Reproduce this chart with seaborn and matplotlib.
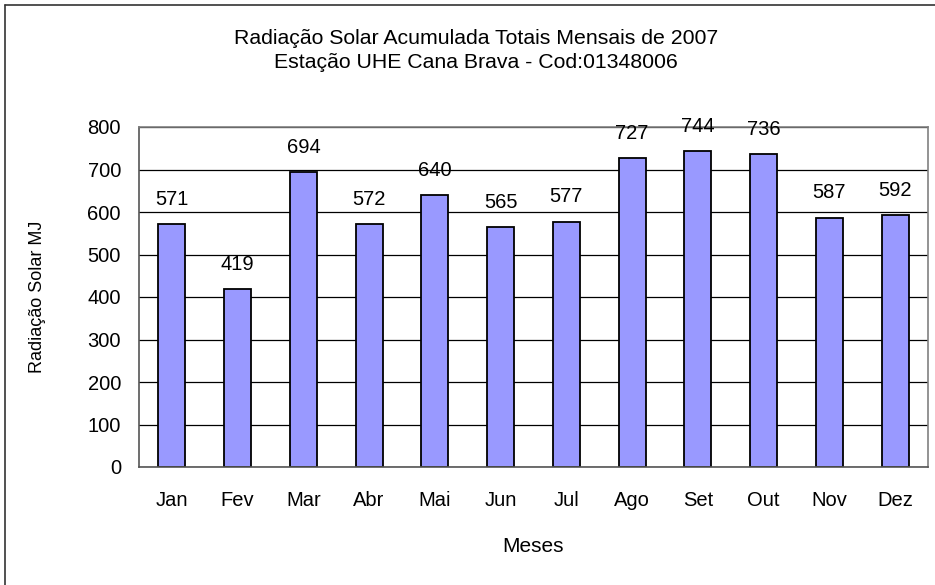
import pandas as pd
import matplotlib.pyplot as plt
import seaborn as sns
from matplotlib.lines import Line2D

meses = ["Jan", "Fev", "Mar", "Abr", "Mai", "Jun", "Jul", "Ago", "Set", "Out", "Nov", "Dez"]
radiacao = [571, 419, 694, 572, 640, 565, 577, 727, 744, 736, 587, 592]

df = pd.DataFrame({"Mes": meses, "Radiacao": radiacao})

sns.set_style("white")
plt.rcParams["font.family"] = ["Liberation Sans", "DejaVu Sans"]
plt.rcParams["text.color"] = "black"
plt.rcParams["axes.labelcolor"] = "black"
plt.rcParams["xtick.color"] = "black"
plt.rcParams["ytick.color"] = "black"

fig = plt.figure(figsize=(9.35, 5.85), dpi=100)
ax = fig.add_axes([139 / 935, 1 - 467 / 585, (928 - 139) / 935, (467 - 127) / 585])

sns.barplot(data=df, x="Mes", y="Radiacao", ax=ax, color="#9999FF",
            edgecolor="black", linewidth=1.3, width=0.41, saturation=1)

ax.set_ylim(0, 800)
ax.set_yticks(range(0, 801, 100))
ax.yaxis.grid(True, color="black", linewidth=0.9)
ax.set_axisbelow(True)
ax.tick_params(axis="both", length=0, labelsize=14.5)
ax.tick_params(axis="x", pad=17)
ax.tick_params(axis="y", pad=13)
for side in ["top", "right"]:
    ax.spines[side].set_color("#808080")
for side in ["left", "bottom"]:
    ax.spines[side].set_color("#555555")
for s in ax.spines.values():
    s.set_linewidth(1.2)

# rótulos de valor acima das barras
ax.bar_label(ax.containers[0], padding=11, fontsize=14.5)

ax.set_xlabel("Meses", fontsize=15, labelpad=20)
ax.set_ylabel("Radiação Solar MJ", fontsize=13, labelpad=30)

fig.text(476 / 935, 1 - 38 / 585, "Radiação Solar Acumulada Totais Mensais de 2007",
         ha="center", va="center", fontsize=15.3)
fig.text(476 / 935, 1 - 62 / 585, "Estação UHE Cana Brava - Cod:01348006",
         ha="center", va="center", fontsize=15.3)

# moldura do gráfico (topo e esquerda)
fig.add_artist(Line2D([5 / 935, 5 / 935], [0, 1 - 5 / 585], color="#333333", linewidth=1.2))
fig.add_artist(Line2D([5 / 935, 1], [1 - 5 / 585, 1 - 5 / 585], color="#333333", linewidth=1.2))

plt.savefig("out.png", dpi=100)
